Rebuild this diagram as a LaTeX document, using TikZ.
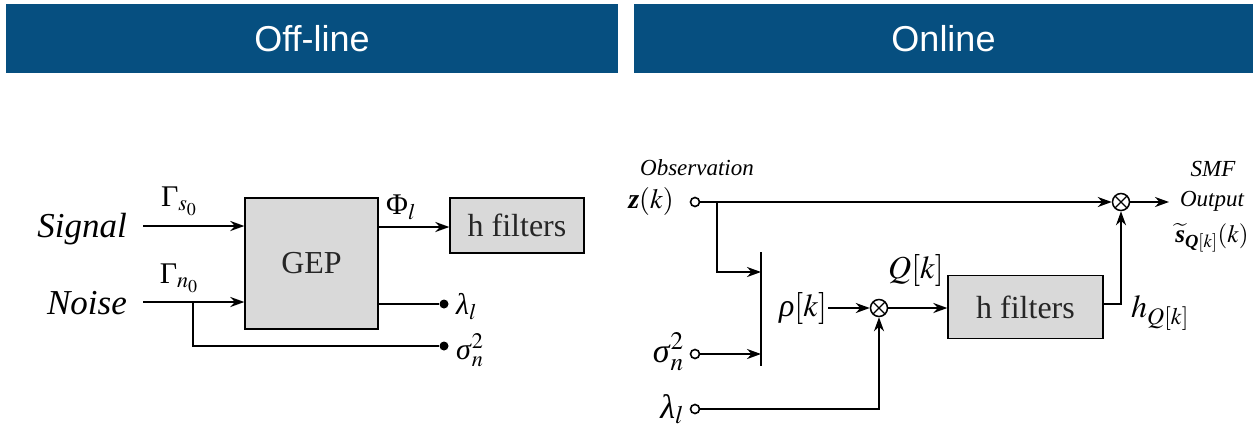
\documentclass[tikz,border=0pt]{standalone}
\usepackage{mathptmx}
\usepackage{amsmath}
\usepackage[no-math]{fontspec}
\setmainfont{Liberation Serif}
\newfontfamily\headfont{Liberation Sans}
\usetikzlibrary{arrows.meta}
\definecolor{headblue}{RGB}{6,79,128}
\definecolor{boxgray}{RGB}{217,217,217}
\newcommand{\bi}[1]{\text{\bfseries\itshape #1}}
\tikzset{
  header/.style={fill=headblue,text=white,font=\headfont\fontsize{36}{40}\selectfont,inner sep=0pt},
  blk/.style={draw,fill=boxgray,line width=1.3pt,inner sep=0pt,font=\fontsize{32}{36}\selectfont,text=black!85},
  lbl/.style={inner sep=1pt,font=\fontsize{30}{34}\selectfont},
  big/.style={inner sep=1pt,font=\fontsize{35}{40}\selectfont\itshape},
  small/.style={inner sep=1pt,font=\fontsize{23}{26}\selectfont\itshape},
  dot/.style={circle,fill,inner sep=0pt,minimum size=9pt},
  odot/.style={circle,draw,fill=white,line width=1.6pt,inner sep=0pt,minimum size=9pt},
  mult/.style={circle,draw,line width=1.5pt,inner sep=0pt,minimum size=17pt,
    path picture={\draw[line width=1.3pt]
      (path picture bounding box.north west) -- (path picture bounding box.south east)
      (path picture bounding box.north east) -- (path picture bounding box.south west);}},
  arr/.style={line width=2.2pt,-{Stealth[length=14pt,width=10pt]}},
  wire/.style={line width=2.2pt}
}
\begin{document}
\begin{tikzpicture}[x=1pt,y=-1pt]
\useasboundingbox (0,0) rectangle (1258,429);
% headers
\node[header,minimum width=612pt,minimum height=69pt] (offhead) at (312,38.5) {Off-line};
\node[header,minimum width=619pt,minimum height=69pt] (onhead) at (943.5,38.5) {Online};

% off-line part
\node[big] (signal) at (82,229) {Signal};
\node[big] (noise) at (87,303) {Noise};
\node[blk,minimum width=133pt,minimum height=131pt] (gep) at (311.5,263.5) {GEP};
\node[blk,minimum width=134pt,minimum height=55pt] (hfl) at (517,225.5) {h filters};
\coordinate (sigin) at (143,226);
\coordinate (noisin) at (143,302);
\coordinate (nbr) at (193,302);
\draw[arr] (sigin) -- (sigin -| gep.west);
\draw[arr] (noisin) -- (noisin -| gep.west);
\node[lbl] (gs) at (179,201) {Γ$_{s_0}$};
\node[lbl] (gn) at (179,278) {Γ$_{n_0}$};
\node[dot] (lamdot) at (444,304) {};
\node[dot] (sigdot) at (444,346) {};
\draw[arr] (gep.east |- 0,227) -- (hfl.west |- 0,227);
\node[lbl] (phi) at (401,207) {Φ$_l$};
\draw[wire] (gep.east |- lamdot) -- (lamdot);
\draw[wire] (nbr) |- (sigdot);
\node[lbl,anchor=west] (laml) at (455,307) {\textit{λ}$_l$};
\node[lbl,anchor=west] (sigl) at (455,350) {\textit{σ}$_n^2$};

% online part
\node[small] (obs) at (697,168) {Observation};
\node[lbl,anchor=east,font=\fontsize{28}{32}\selectfont] (zk) at (675,201) {\textbf{\textit{z}}$(k)$};
\node[odot] (zdot) at (695,202) {};
\node[mult] (mtop) at (1121,202) {};
\draw[arr] (zdot) -- (mtop);
\coordinate (zbr) at (717,202);
\coordinate (bartop) at (761,252);
\coordinate (barbot) at (761,366);
\draw[wire] (bartop) -- (barbot);
\draw[arr] (zbr) |- (bartop |- 0,272);
\node[lbl,anchor=east,font=\fontsize{34}{38}\selectfont] (sigr) at (685,352) {\textit{σ}$_n^2$};
\node[odot] (sdot) at (695,354) {};
\draw[arr] (sdot) -- (sdot -| bartop);
\node[lbl,font=\fontsize{32}{36}\selectfont] (rho) at (803,308) {\textit{ρ}$[k]$};
\node[mult] (mmid) at (879,308) {};
\draw[arr] (rho) -- (mmid);
\node[blk,minimum width=155pt,minimum height=63pt] (hfr) at (1025.5,307) {h filters};
\draw[arr] (mmid) -- (mmid -| hfr.west);
\node[lbl,font=\fontsize{32}{36}\selectfont] (qk) at (916,270) {$Q[k]$};
\draw[arr] (hfr.east |- 0,304) -| (mtop);
\node[lbl,font=\fontsize{32}{36}\selectfont] (hq) at (1160,313) {$h_{Q[k]}$};
\node[lbl,anchor=east,font=\fontsize{34}{38}\selectfont] (laml2) at (685,409) {\textit{λ}$_l$};
\node[odot] (ldot) at (695,409) {};
\draw[arr] (ldot) -| (mmid);
\coordinate (outend) at (1169,202);
\draw[arr] (mtop) -- (outend);
\node[small] (smf) at (1213,169) {SMF};
\node[small] (outl) at (1212,201) {Output};
\node[lbl,inner sep=0pt,font=\fontsize{25}{28}\selectfont] (stil) at (1212,238) {$\widetilde{\bi{s}}_{\bi{Q}[k]}(k)$};
\end{tikzpicture}
\end{document}
